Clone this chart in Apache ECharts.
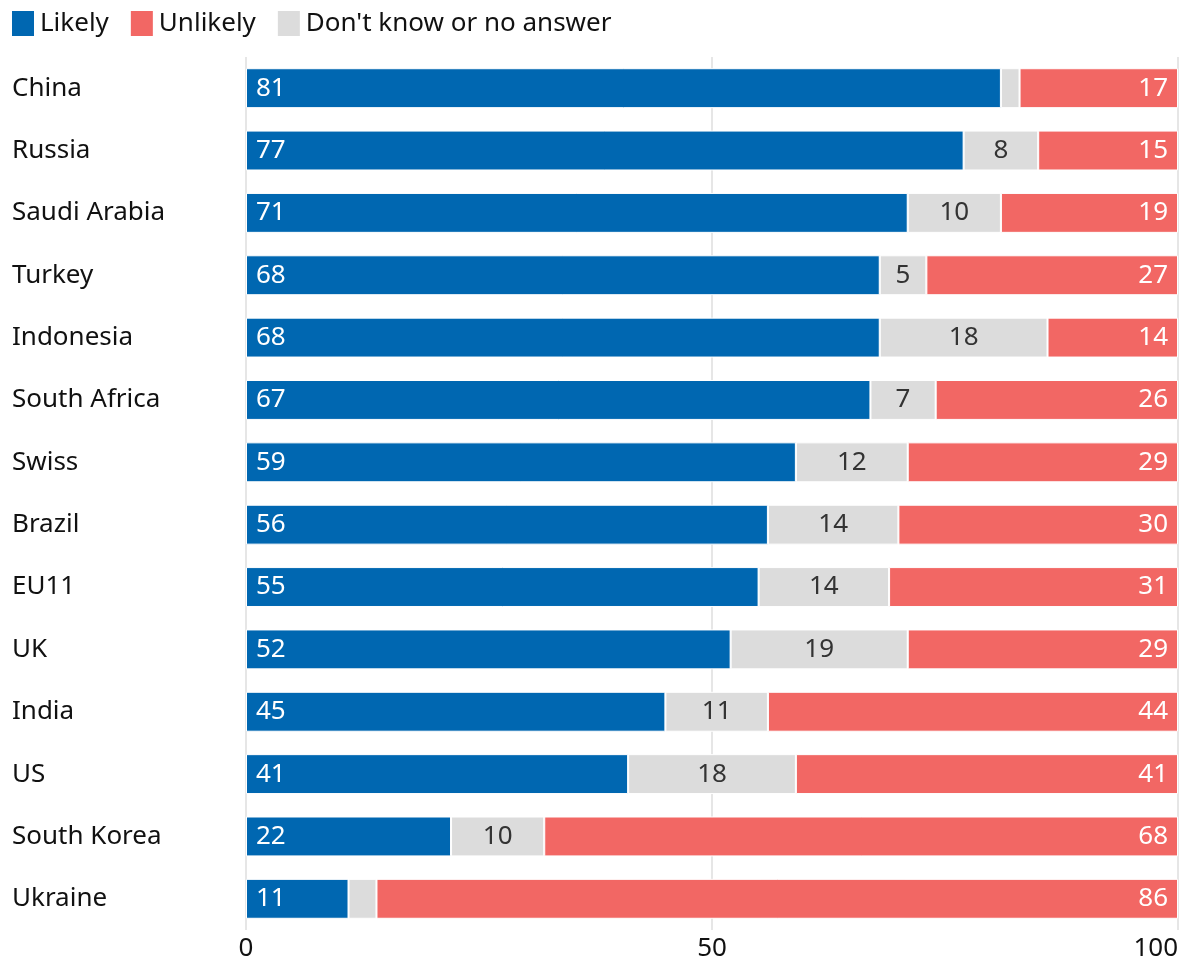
<!DOCTYPE html>
<html>
<head>
<meta charset="utf-8">
<script src="https://cdn.jsdelivr.net/npm/echarts@6/dist/echarts.min.js"></script>
<style>
  html, body { margin: 0; padding: 0; background: #fff; }
  #chart { width: 1185px; height: 964px; }
</style>
</head>
<body>
<div id="chart"></div>
<script>
// Survey results by country, percent of respondents
const countries = ['China', 'Russia', 'Saudi Arabia', 'Turkey', 'Indonesia', 'South Africa', 'Swiss',
  'Brazil', 'EU11', 'UK', 'India', 'US', 'South Korea', 'Ukraine'];
const likely   = [81, 77, 71, 68, 68, 67, 59, 56, 55, 52, 45, 41, 22, 11];
const dontKnow = [2, 8, 10, 5, 18, 7, 12, 14, 14, 19, 11, 18, 10, 3];
const unlikely = [17, 15, 19, 27, 14, 26, 29, 30, 31, 29, 44, 41, 68, 86];
const xTicks = [0, 50, 100];

const FONT = 'Noto Sans';
const chart = echarts.init(document.getElementById('chart'));

// Small segments get no value label
const labelFmt = p => (p.value >= 4 ? String(p.value) : '');

function segment(name, data, color, pos, textColor) {
  return {
    name: name,
    type: 'bar',
    stack: 'total',
    data: data,
    barCategoryGap: '36%',
    itemStyle: { color: color, borderColor: '#fff', borderWidth: 1 },
    label: {
      show: true,
      position: pos,
      distance: 10,
      formatter: labelFmt,
      color: textColor,
      fontFamily: FONT,
      fontSize: 26
    },
    emphasis: { disabled: true }
  };
}

chart.setOption({
  animation: false,
  textStyle: { fontFamily: FONT },
  legend: {
    left: 10,
    top: 9,
    padding: 0,
    itemWidth: 24,
    itemHeight: 27,
    itemGap: 20,
    icon: 'rect',
    data: ['Likely', 'Unlikely', "Don't know or no answer"],
    textStyle: { fontFamily: FONT, fontSize: 26, color: '#111' },
    selectedMode: false
  },
  grid: { left: 246, right: 7, top: 57, bottom: 34, containLabel: false, outerBoundsMode: 'none' },
  xAxis: {
    type: 'value',
    min: xTicks[0],
    max: xTicks[xTicks.length - 1],
    interval: 50,
    axisLine: { show: false },
    axisTick: { show: false },
    splitLine: { show: true, lineStyle: { color: '#e6e6e6', width: 2 } },
    axisLabel: {
      fontFamily: FONT,
      fontSize: 26,
      color: '#111',
      margin: 6,
      alignMaxLabel: 'right',
      customValues: xTicks
    }
  },
  yAxis: {
    type: 'category',
    inverse: true,
    data: countries,
    axisLine: { show: false },
    axisTick: { show: false },
    axisLabel: {
      align: 'left',
      margin: 234,
      fontFamily: FONT,
      fontSize: 26,
      color: '#111'
    }
  },
  series: [
    segment('Likely', likely, '#0067b1', 'insideLeft', '#fff'),
    segment("Don't know or no answer", dontKnow, '#dcdcdc', 'inside', '#333'),
    segment('Unlikely', unlikely, '#f26764', 'insideRight', '#fff')
  ]
});
</script>
</body>
</html>
